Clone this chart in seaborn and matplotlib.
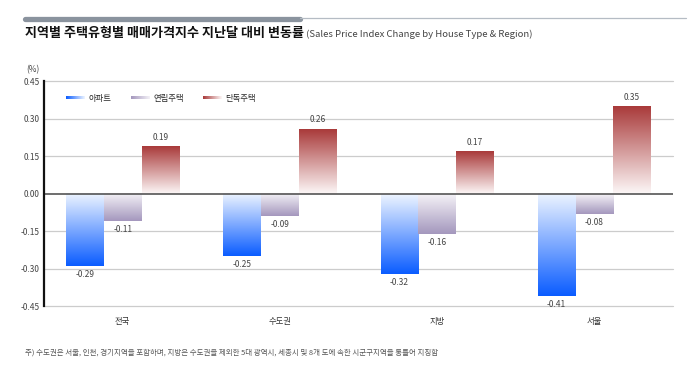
import numpy as np
import pandas as pd
import matplotlib
matplotlib.use('Agg')
import matplotlib.pyplot as plt
import matplotlib.colors as mcolors
import seaborn as sns
from matplotlib.legend_handler import HandlerBase
from matplotlib.image import BboxImage
from matplotlib.transforms import Bbox, TransformedBbox
from matplotlib.patches import Patch

# chart data
regions = ['전국', '수도권', '지방', '서울']
house_types = ['아파트', '연립주택', '단독주택']
apt = [-0.29, -0.25, -0.32, -0.41]
row_house = [-0.11, -0.09, -0.16, -0.08]
detached = [0.19, 0.26, 0.17, 0.35]
yticks = [0.45, 0.30, 0.15, 0.00, -0.15, -0.30, -0.45]

title_ko = '지역별 주택유형별 매매가격지수 지난달 대비 변동률'
title_en = '(Sales Price Index Change by House Type & Region)'
footnote = ('주) 수도권은 서울, 인천, 경기지역을 포함하며, 지방은 수도권을 제외한 5대 광역시, '
            '세종시 및 8개 도에 속한 시군구지역을 통틀어 지칭함')

dark = {'아파트': '#0a5cff', '연립주택': '#a497bd', '단독주택': '#a93a3a'}
light = {'아파트': '#eef5ff', '연립주택': '#f4f2f7', '단독주택': '#fdf8f8'}

df = pd.DataFrame({
    'region': regions * 3,
    'type': [t for t in house_types for _ in regions],
    'value': apt + row_house + detached,
})

sns.set_style('white')
plt.rcParams['font.family'] = ['Noto Sans CJK KR', 'DejaVu Sans']

fig = plt.figure(figsize=(6.92, 3.67), dpi=100)
ax = fig.add_axes([0.0636, 0.166, 0.909, 0.613])

sns.barplot(data=df, x='region', y='value', hue='type', order=regions,
            hue_order=house_types, palette=dark, width=0.72, legend=False,
            ax=ax, zorder=3)


def grad_img(c_far, c_near, n=256):
    a = np.array(mcolors.to_rgb(c_near))
    b = np.array(mcolors.to_rgb(c_far))
    t = np.linspace(0, 1, n)[:, None]
    return (a + (b - a) * t)[:, None, :]


# replace flat bars with vertical gradients (light near zero, dark at the tip)
for cont, t in zip(ax.containers, house_types):
    for bar in cont:
        x0, y0 = bar.get_x(), bar.get_y()
        w, h = bar.get_width(), bar.get_height()
        img = grad_img(dark[t], light[t])
        if h < 0:
            img = img[::-1]
        ax.imshow(img, extent=[x0, x0 + w, min(y0, y0 + h), max(y0, y0 + h)],
                  origin='lower', aspect='auto', zorder=3, interpolation='bilinear')
        bar.set_facecolor('none')
        bar.set_edgecolor('none')
    ax.bar_label(cont, fmt='%.2f', padding=3, fontsize=6, color='#444444')

ax.set_xlim(-0.5, 3.5)
ax.set_ylim(-0.45, 0.45)
ax.set_yticks(yticks)
ax.set_yticklabels([f'{v:.2f}' for v in yticks], fontsize=6, color='#444444')
ax.tick_params(axis='x', labelsize=6, colors='#333333', pad=8, length=0)
ax.tick_params(axis='y', length=0, pad=3)
ax.set_xlabel('')
ax.set_ylabel('')
for v in yticks:
    if v != 0:
        ax.axhline(v, color='#cccccc', lw=0.9, zorder=1, clip_on=False)
ax.axhline(0, color='#555555', lw=1.2, zorder=4)
for s in ['top', 'right', 'bottom']:
    ax.spines[s].set_visible(False)
ax.spines['left'].set_color('#111111')
ax.spines['left'].set_linewidth(1.6)
ax.spines['left'].set_zorder(5)
ax.text(-0.017, 1.03, '(%)', transform=ax.transAxes, ha='center', va='bottom',
        fontsize=6, color='#444444')


class GradientHandler(HandlerBase):
    def create_artists(self, legend, orig_handle, xdescent, ydescent,
                       width, height, fontsize, trans):
        c = orig_handle.get_label()
        img = grad_img(dark[c], light[c]).transpose(1, 0, 2)[:, ::-1, :]
        bb = Bbox.from_bounds(-xdescent, -ydescent + height * 0.32, width, height * 0.36)
        im = BboxImage(TransformedBbox(bb, trans), interpolation='bilinear')
        im.set_data(img)
        return [im]


handles = [Patch(label=t) for t in house_types]
ax.legend(handles=handles, labels=house_types, loc='upper left',
          bbox_to_anchor=(0.023, 0.975), ncol=3, frameon=False, fontsize=6,
          handlelength=2.2, handletextpad=0.5, columnspacing=2.3,
          handler_map={Patch: GradientHandler()})

# header decoration and title
fig.add_artist(plt.Line2D([0.036, 0.434], [0.949, 0.949], color='#8a939e', lw=3.8))
fig.add_artist(plt.Line2D([0.434, 0.991], [0.951, 0.951], color='#b5bcc4', lw=0.9))
t1 = fig.text(0.036, 0.898, title_ko, fontsize=9.4, fontweight='bold', color='#111111',
              va='baseline')
t2 = fig.text(0, 0.898, ' ' + title_en, fontsize=6.9, color='#444444', va='baseline')
fig.canvas.draw()
bb = t1.get_window_extent()
t2.set_x(bb.x1 / fig.bbox.width)

fig.text(0.036, 0.035, footnote, fontsize=5.4, color='#555555', va='baseline')

fig.savefig('out.png', dpi=100)
